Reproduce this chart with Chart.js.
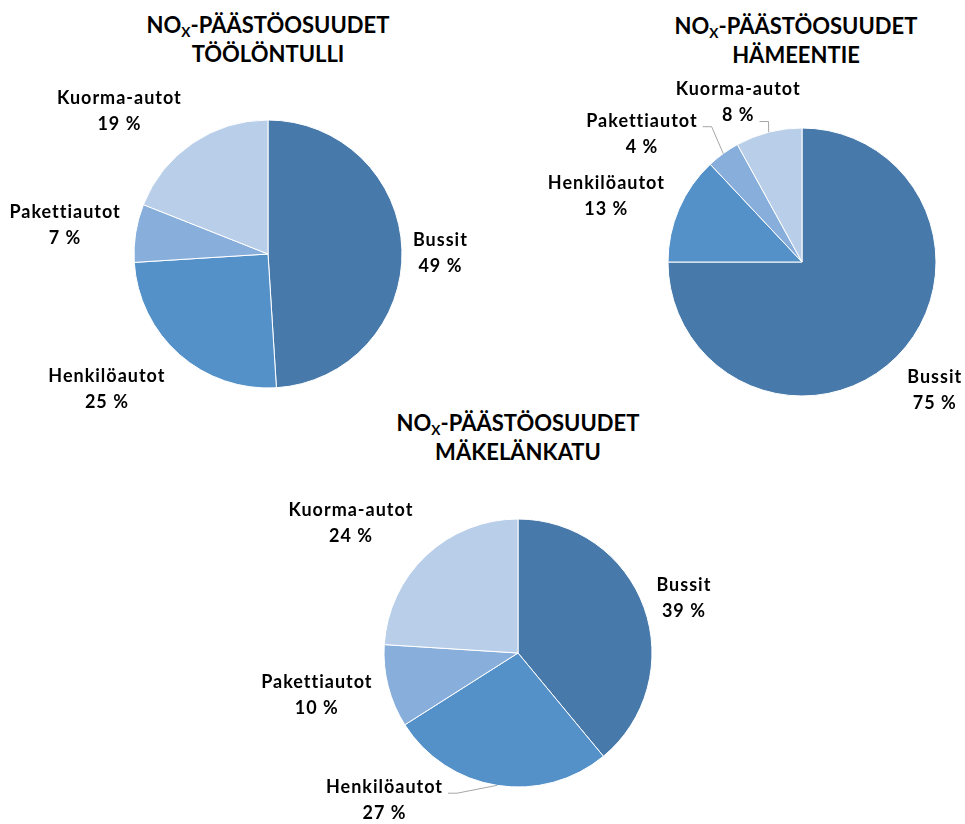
<!DOCTYPE html>
<html><head><meta charset="utf-8">
<script src="https://cdn.jsdelivr.net/npm/chart.js@4.4.1/dist/chart.umd.min.js"></script>
<style>
html,body{margin:0;padding:0;background:#fff;overflow:hidden;width:965px;height:824px}
canvas{position:absolute;left:0;top:0;pointer-events:none}
.title{position:absolute;font-family:Lato,'DejaVu Sans',sans-serif;font-weight:bold;font-size:22px;color:#000;text-align:center;line-height:29px;white-space:nowrap;transform:translateX(-50%)}
.title sub{font-size:0.62em;vertical-align:-0.3em;line-height:0}
</style></head><body>
<div class="title" style="left:268px;top:10px">NO<sub>X</sub>-PÄÄSTÖOSUUDET<br>TÖÖLÖNTULLI</div>
<div class="title" style="left:796px;top:11px">NO<sub>X</sub>-PÄÄSTÖOSUUDET<br>HÄMEENTIE</div>
<div class="title" style="left:518px;top:408px">NO<sub>X</sub>-PÄÄSTÖOSUUDET<br>MÄKELÄNKATU</div>
<canvas id="c1" width="965" height="824"></canvas>
<canvas id="c2" width="965" height="824"></canvas>
<canvas id="c3" width="965" height="824"></canvas>
<script>
const categories = ['Bussit', 'Henkilöautot', 'Pakettiautot', 'Kuorma-autot'];
const toolontulliValues = [49, 25, 7, 19];
const hameentieValues = [75, 13, 4, 8];
const makelankatuValues = [39, 27, 10, 24];

const sliceColors = ['#4779AA', '#5591C9', '#88AFDC', '#B9CEE8'];
const W = 965, H = 824, R = 134.5;

const outLabels = {
  id: 'outLabels',
  afterDatasetsDraw(chart, args, opts) {
    const ctx = chart.ctx;
    const meta = chart.getDatasetMeta(0);
    const ds = chart.data.datasets[0];
    ctx.save();
    ctx.font = opts.font;
    if ('letterSpacing' in ctx) ctx.letterSpacing = opts.letterSpacing;
    ctx.fillStyle = '#000';
    ctx.textAlign = 'center';
    ctx.textBaseline = 'middle';
    const cl = v => Math.max(-1, Math.min(1, v));
    meta.data.forEach((arc, i) => {
      const p = arc.getProps(['x', 'y', 'startAngle', 'endAngle', 'outerRadius'], true);
      const mid = (p.startAngle + p.endAngle) / 2;
      const c = Math.cos(mid), s = Math.sin(mid);
      const lines = [chart.data.labels[i], ds.data[i] + ' %'];
      const w = Math.max(...lines.map(l => ctx.measureText(l).width));
      const lh = opts.lineHeight;
      const rr = p.outerRadius + opts.gap;
      const ax = p.x + c * rr, ay = p.y + s * rr;
      const nd = (opts.nudge || [])[i] || [0, 0];
      const cx = ax + cl(1.4 * c) * w / 2 + nd[0];
      const cy = ay + cl(1.4 * s) * lh + nd[1];
      lines.forEach((l, j) => ctx.fillText(l, cx, cy + (j - 0.5) * lh));
      const lead = (opts.leaders || {})[i];
      if (lead !== undefined) {
        const lw = ctx.measureText(lines[lead]).width;
        const sx = cx + lw / 2 + 5, sy = cy + (lead - 0.5) * lh + 6;
        const ex = p.x + c * p.outerRadius, ey = p.y + s * p.outerRadius;
        ctx.strokeStyle = '#a6a6a6';
        ctx.lineWidth = 1;
        ctx.beginPath();
        ctx.moveTo(sx, sy);
        ctx.lineTo(sx + 9, sy);
        ctx.lineTo(ex, ey);
        ctx.stroke();
      }
    });
    ctx.restore();
  }
};

function makePie(id, values, cx, cy, labelOpts) {
  return new Chart(document.getElementById(id), {
    type: 'pie',
    data: {
      labels: categories,
      datasets: [{
        data: values,
        backgroundColor: sliceColors,
        borderColor: '#ffffff',
        borderWidth: 1
      }]
    },
    options: {
      responsive: false,
      animation: false,
      events: [],
      layout: {
        padding: { left: cx - R, right: W - cx - R, top: cy - R, bottom: H - cy - R }
      },
      plugins: {
        legend: { display: false },
        tooltip: { enabled: false },
        outLabels: Object.assign({ font: 'bold 18px Lato, "DejaVu Sans", sans-serif', letterSpacing: '1px', lineHeight: 26, gap: 11 }, labelOpts)
      }
    },
    plugins: [outLabels]
  });
}

makePie('c1', toolontulliValues, 268, 254, { nudge: [[0, 5], [-11, 0], [-4, 0], [-18, 3]] });
makePie('c2', hameentieValues, 802, 262, { nudge: [[3, 0], [-4, 6], [-29, 15], [-6, 7]], leaders: { 2: 0, 3: 1 } });
makePie('c3', makelankatuValues, 518, 653, { nudge: [[2, 7], [-98, -22], [-5, -3], [-8, 2]], leaders: { 1: 0 } });
</script>
</body></html>
